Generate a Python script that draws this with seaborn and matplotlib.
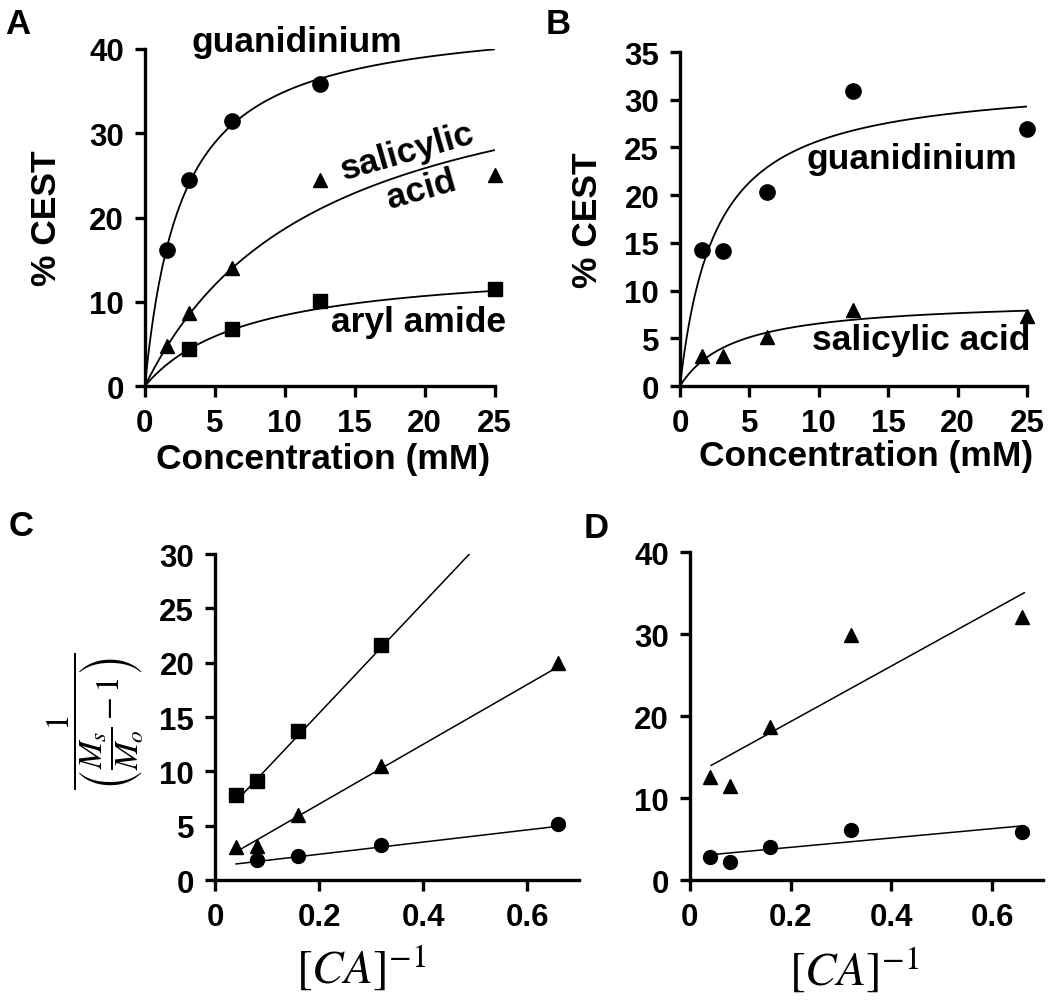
import numpy as np
import pandas as pd
import matplotlib
matplotlib.use('Agg')
import matplotlib.pyplot as plt
import seaborn as sns

sns.set_style('ticks')
plt.rcParams['font.family'] = ['Liberation Sans', 'DejaVu Sans']
plt.rcParams['mathtext.fontset'] = 'stix'
for k in ['text.color', 'axes.labelcolor', 'xtick.color', 'ytick.color', 'axes.edgecolor']:
    plt.rcParams[k] = 'black'

# ---- data ----
conc = [1.5625, 3.125, 6.25, 12.5, 25]
inv_conc = [0.04, 0.08, 0.16, 0.32, 0.66]

# panel A: % CEST vs concentration
a_guan = [16.1, 24.5, 31.4, 35.8]          # conc[:4]
a_sal = [4.8, 8.7, 14.0, 24.4, 25.0]        # all conc
a_aryl = [4.4, 6.8, 10.1, 11.5]             # conc[1:]
# hyperbolic fits (Smax, K)
a_guan_fit = (44.2, 2.65)
a_sal_fit = (42.0, 12.5)
a_aryl_fit = (14.66, 7.43)

# panel B
b_guan = [14.3, 14.2, 20.3, 30.9, 26.9]
b_sal = [3.1, 3.2, 5.1, 8.0, 7.3]
b_guan_fit = (32.3, 2.57)
b_sal_fit = (9.15, 3.96)

# panel C: 1/(Ms/Mo - 1) vs [CA]^-1
c_sq = [7.8, 9.1, 13.7, 21.6]               # inv_conc[:4]
c_tri = [3.0, 3.1, 6.0, 10.5, 20.0]
c_circ = [1.8, 2.2, 3.2, 5.15]              # inv_conc[1:]
# linear fits (slope, intercept, x_start, x_end)
c_sq_fit = (50.7, 5.2, 0.045, 0.489)
c_tri_fit = (27.5, 1.48, 0.045, 0.66)
c_circ_fit = (5.6, 1.25, 0.04, 0.66)

# panel D
d_tri = [12.6, 11.5, 18.6, 29.9, 32.1]
d_circ = [2.8, 2.2, 4.0, 6.1, 5.9]
d_tri_fit = (33.9, 12.54, 0.042, 0.664)
d_circ_fit = (5.69, 2.85, 0.042, 0.664)

TICK = 22.5
LAB = 25.5
MS = 11


def hyper(ax, fit, xmax=25):
    smax, k = fit
    x = np.linspace(0, xmax, 200)
    df = pd.DataFrame({'x': x, 'y': smax * x / (k + x)})
    sns.lineplot(data=df, x='x', y='y', ax=ax, color='black', lw=1.3)


def linfit(ax, fit):
    m, b, x0, x1 = fit
    x = np.array([x0, x1])
    df = pd.DataFrame({'x': x, 'y': m * x + b})
    sns.lineplot(data=df, x='x', y='y', ax=ax, color='black', lw=1.1)


def pts(ax, x, y, marker, size=MS):
    ax.plot(x, y, ls='none', marker=marker, color='black', ms=size,
            clip_on=False, zorder=5)


def style(ax, xlim, ylim, xt, yt, xtl=None):
    ax.set_xlim(*xlim)
    ax.set_ylim(*ylim)
    ax.set_xticks(xt)
    ax.set_yticks(yt)
    if xtl is not None:
        ax.set_xticklabels(xtl)
    sns.despine(ax=ax)
    for s in ['left', 'bottom']:
        ax.spines[s].set_linewidth(2.4)
    ax.tick_params(axis='both', width=2.4, labelsize=TICK, pad=8)
    ax.tick_params(axis='y', length=7)
    ax.tick_params(axis='x', length=8)
    plt.setp(ax.get_xticklabels() + ax.get_yticklabels(), fontweight='bold')


fig = plt.figure(figsize=(10.5, 10.04), dpi=100)
axA = fig.add_axes([0.138, 0.6145, 0.333, 0.3357])
axB = fig.add_axes([0.6476, 0.6145, 0.3305, 0.3327])
axC = fig.add_axes([0.2048, 0.1225, 0.3467, 0.3247])
axD = fig.add_axes([0.657, 0.1225, 0.336, 0.3267])

# ---- A ----
hyper(axA, a_guan_fit)
hyper(axA, a_sal_fit)
hyper(axA, a_aryl_fit)
pts(axA, conc[:4], a_guan, 'o')
pts(axA, conc, a_sal, '^', 9.5)
pts(axA, conc[1:], a_aryl, 's', 10)
style(axA, (0, 25), (0, 40), [0, 5, 10, 15, 20, 25], [0, 10, 20, 30, 40])
kw = dict(fontsize=LAB, fontweight='bold', ha='center', va='center')
axA.text(10.9, 40.9, 'guanidinium', **kw)
axA.text(18.8, 27.9, 'salicylic', rotation=16, **kw)
axA.text(19.8, 23.4, 'acid', rotation=16, **kw)
axA.text(19.6, 7.7, 'aryl amide', **kw)
axA.set_xlabel('Concentration (mM)', fontsize=LAB, fontweight='bold')
axA.set_ylabel('% CEST', fontsize=LAB, fontweight='bold')
axA.xaxis.set_label_coords(0.51, -0.165)
axA.yaxis.set_label_coords(-0.235, 0.5)

# ---- B ----
hyper(axB, b_guan_fit)
hyper(axB, b_sal_fit)
pts(axB, conc, b_guan, 'o')
pts(axB, conc, b_sal, '^', 9.5)
style(axB, (0, 25), (0, 35), [0, 5, 10, 15, 20, 25], [0, 5, 10, 15, 20, 25, 30, 35])
axB.text(16.7, 23.8, 'guanidinium', **kw)
axB.text(17.4, 4.9, 'salicylic acid', **kw)
axB.set_xlabel('Concentration (mM)', fontsize=LAB, fontweight='bold')
axB.set_ylabel('% CEST', fontsize=LAB, fontweight='bold')
axB.xaxis.set_label_coords(0.536, -0.16)
axB.yaxis.set_label_coords(-0.22, 0.5)

# ---- C ----
linfit(axC, c_sq_fit)
linfit(axC, c_tri_fit)
linfit(axC, c_circ_fit)
pts(axC, inv_conc[:4], c_sq, 's', 10)
pts(axC, inv_conc, c_tri, '^', 9.5)
pts(axC, inv_conc[1:], c_circ, 'o', 10)
style(axC, (0, 0.7), (0, 30), [0, 0.2, 0.4, 0.6], [0, 5, 10, 15, 20, 25, 30],
      ['0', '0.2', '0.4', '0.6'])
axC.set_xlabel(r'$[CA]^{-1}$', fontsize=34)
axC.set_ylabel(r'$\dfrac{1}{\left(\dfrac{M_s}{M_o}-1\right)}$', fontsize=24)
axC.xaxis.set_label_coords(0.40, -0.19)
axC.yaxis.set_label_coords(-0.19, 0.49)

# ---- D ----
linfit(axD, d_tri_fit)
linfit(axD, d_circ_fit)
pts(axD, inv_conc, d_tri, '^', 9.5)
pts(axD, inv_conc, d_circ, 'o', 10)
style(axD, (0, 0.7), (0, 40), [0, 0.2, 0.4, 0.6], [0, 10, 20, 30, 40],
      ['0', '0.2', '0.4', '0.6'])
axD.set_xlabel(r'$[CA]^{-1}$', fontsize=34)
axD.set_ylabel('')
axD.xaxis.set_label_coords(0.465, -0.195)

# panel letters
for lab, x, y in [('A', 0.005, 0.992), ('B', 0.52, 0.992),
                  ('C', 0.008, 0.492), ('D', 0.556, 0.49)]:
    fig.text(x, y, lab, fontsize=25, fontweight='bold', ha='left', va='top')

fig.savefig('out.png', dpi=100)
